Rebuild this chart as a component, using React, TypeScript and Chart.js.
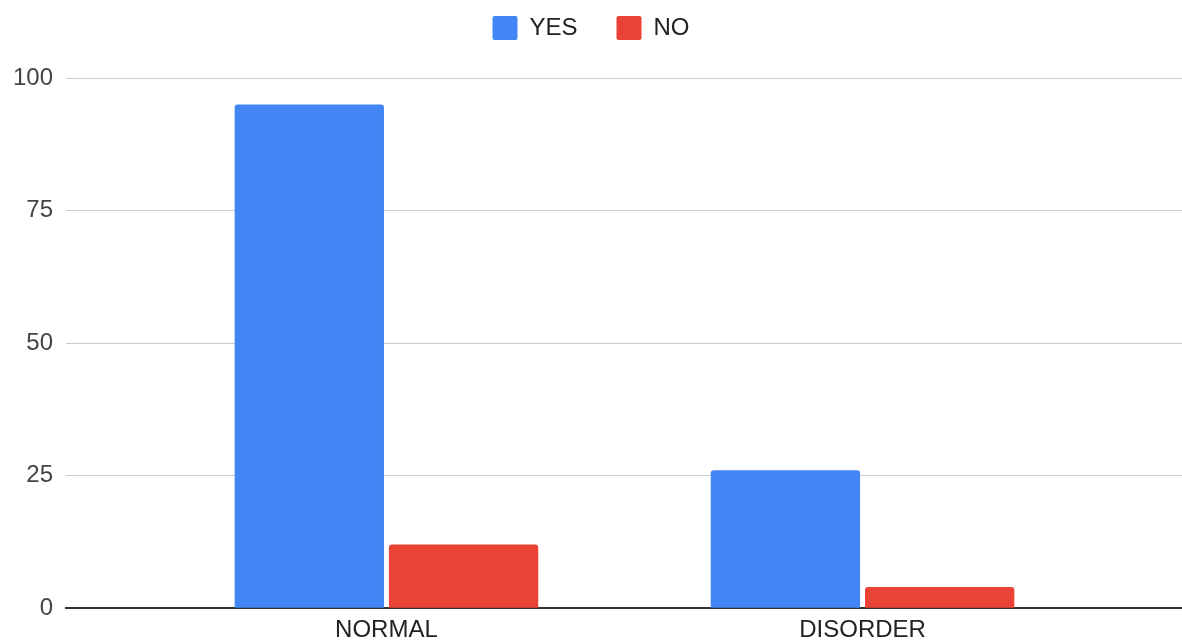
import React, { useEffect, useRef } from "react";
import { Chart, registerables } from "chart.js";

Chart.register(...registerables);

// Categories along the x axis and the two response series
const categories: string[] = ["NORMAL", "DISORDER"];
const yesValues: number[] = [95, 26];
const noValues: number[] = [12, 4];
const yTicks: number[] = [0, 25, 50, 75, 100];

const FONT = "'Liberation Sans', Arial, sans-serif";

// Extra room between the legend row and the plot area
const legendSpacer = {
  id: "legendSpacer",
  beforeInit(chart: any) {
    const legend = chart.legend;
    if (!legend) return;
    const origFit = legend.fit;
    legend.fit = function fit() {
      origFit.call(this);
      this.height += 28;
    };
  },
};

export default function App() {
  const canvasRef = useRef<HTMLCanvasElement | null>(null);

  useEffect(() => {
    document.body.style.margin = "0";
    const canvas = canvasRef.current;
    if (!canvas) return;

    const chart = new Chart(canvas, {
      type: "bar",
      data: {
        datasets: [
          {
            label: "YES",
            data: categories.map((_, i) => ({ x: i, y: yesValues[i] })),
            backgroundColor: "#4285F4",
            borderRadius: { topLeft: 3, topRight: 3, bottomLeft: 0, bottomRight: 0 },
            borderSkipped: false,
            categoryPercentage: 0.648,
            barPercentage: 0.968,
          },
          {
            label: "NO",
            data: categories.map((_, i) => ({ x: i, y: noValues[i] })),
            backgroundColor: "#EA4335",
            borderRadius: { topLeft: 3, topRight: 3, bottomLeft: 0, bottomRight: 0 },
            borderSkipped: false,
            categoryPercentage: 0.648,
            barPercentage: 0.968,
          },
        ],
      },
      options: {
        animation: false,
        responsive: false,
        maintainAspectRatio: false,
        layout: { padding: { top: -23, left: 0, right: 0, bottom: -9 } },
        plugins: {
          tooltip: { enabled: false },
          legend: {
            position: "top",
            align: "center",
            labels: {
              font: { family: FONT, size: 24 },
              color: "#222222",
              boxWidth: 25,
              boxHeight: 24,
              padding: 39,
              useBorderRadius: true,
              borderRadius: 2,
            },
          },
        },
        scales: {
          x: {
            type: "linear",
            offset: false,
            min: -0.673,
            max: 1.671,
            afterBuildTicks(scale: any) {
              scale.ticks = categories.map((_, i) => ({ value: i }));
            },
            ticks: {
              autoSkip: false,
              maxRotation: 0,
              padding: 8,
              color: "#222222",
              font: { family: FONT, size: 24 },
              callback: (v: any) => categories[Number(v)] ?? "",
            },
            grid: { display: false, drawTicks: false },
            border: { display: true, color: "#333333", width: 2 },
          },
          y: {
            min: 0,
            max: 100,
            afterBuildTicks(scale: any) {
              scale.ticks = yTicks.map((v) => ({ value: v }));
            },
            ticks: {
              padding: 13,
              color: "#444444",
              font: { family: FONT, size: 24 },
            },
            grid: { color: "#cccccc", lineWidth: 1, drawTicks: false },
            border: { display: false },
          },
        },
      },
      plugins: [legendSpacer],
    });

    return () => chart.destroy();
  }, []);

  return (
    <div style={{ width: 1182, height: 644, background: "#ffffff" }}>
      <canvas ref={canvasRef} width={1182} height={644} style={{ display: "block" }} />
    </div>
  );
}
